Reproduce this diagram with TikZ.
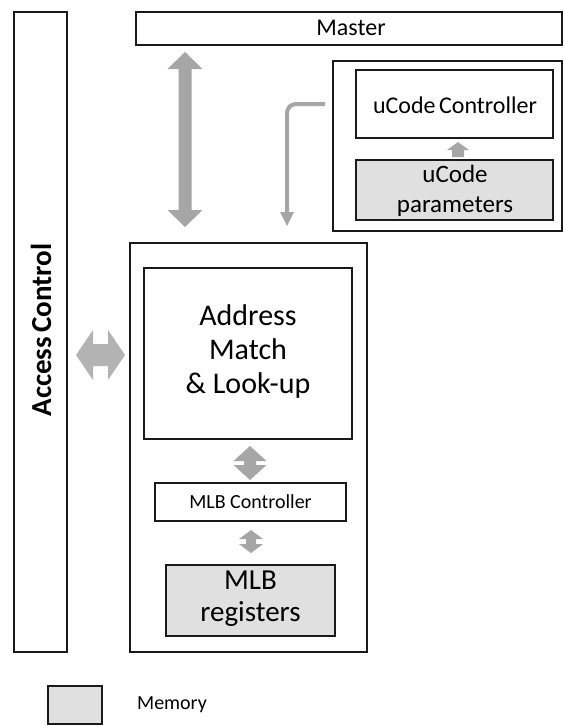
\documentclass[tikz,border=0pt]{standalone}
\usepackage{fontspec}
\setmainfont{Carlito}
\definecolor{arrgray}{HTML}{A6A6A6}
\definecolor{memfill}{HTML}{E0E0E0}
\definecolor{edge}{HTML}{1A1A1A}
\newcommand\fsz[1]{\fontsize{#1}{#1}\selectfont}
\newcommand\vdarr[6]{% x, ytop, ybot, shaft, head width, head length
  \fill[arrgray] (#1,#2) -- ({#1+#5/2},{#2+#6}) -- ({#1+#4/2},{#2+#6}) -- ({#1+#4/2},{#3-#6}) -- ({#1+#5/2},{#3-#6}) -- (#1,#3) -- ({#1-#5/2},{#3-#6}) -- ({#1-#4/2},{#3-#6}) -- ({#1-#4/2},{#2+#6}) -- ({#1-#5/2},{#2+#6}) -- cycle;}
\newcommand\hdarr[6]{% y, xleft, xright, shaft, head width, head length
  \fill[arrgray!85] (#2,#1) -- ({#2+#6},{#1-#5/2}) -- ({#2+#6},{#1-#4/2}) -- ({#3-#6},{#1-#4/2}) -- ({#3-#6},{#1-#5/2}) -- (#3,#1) -- ({#3-#6},{#1+#5/2}) -- ({#3-#6},{#1+#4/2}) -- ({#2+#6},{#1+#4/2}) -- ({#2+#6},{#1+#5/2}) -- cycle;}
\begin{document}
\begin{tikzpicture}[x=1pt,y=-1pt,
  box/.style={draw=edge, line width=1.2pt, fill=white},
  mem/.style={draw=edge, line width=1.2pt, fill=memfill},
  lbl/.style={inner sep=0pt, align=center, text=black}]
\useasboundingbox (0,0) rectangle (563,726);
% boxes
\draw[box] (14,12) rectangle (67,652);
\coordinate (acc) at (41,330);
\draw[box] (136,12) rectangle (562,45);
\draw[box] (333,61) rectangle (562,231);
\draw[box] (356,70) rectangle (553,138);
\draw[mem] (356,160) rectangle (553,220);
\draw[box] (130,243) rectangle (367,652);
\draw[box] (144,268) rectangle (352,439);
\draw[box] (155,483) rectangle (346,521);
\draw[mem] (166,565) rectangle (335,636);
\draw[mem] (48,686) rectangle (102,724);
% texts
\node[lbl, rotate=90] (access) at (acc) {\fsz{29}\textbf{Access\hspace{-2pt} Control}};
\node[lbl] (master) at (351,28) {\fsz{24}Master};
\node[lbl] (uctrl) at (455,105) {\fsz{24}uCode\hspace{-2pt} Controller};
\node[lbl] (upar) at (455,192) {\fsz{25}\begin{tabular}{@{}c@{}}uCode\\[5pt]parameters\end{tabular}};
\node[lbl] (addr) at (248,353) {\fsz{30}\begin{tabular}{@{}c@{}}Address\\[4pt]Match\\[4pt]\&~Look-up\end{tabular}};
\node[lbl] (mlbc) at (250.5,502) {\fsz{20}MLB Controller};
\node[lbl] (mlbr) at (250.5,600) {\fsz{29}\begin{tabular}{@{}c@{}}MLB\\[3pt]registers\end{tabular}};
\node[lbl] (memlbl) at (172,705) {\fsz{20}Memory};
% arrows
\vdarr{185}{52}{227}{13}{35}{17}
\vdarr{250}{446}{480}{12}{33}{15}
\vdarr{251}{530}{553}{10}{24}{9}
\hdarr{355}{76}{125}{22}{50}{17}
% small up arrow between uCode boxes
\fill[arrgray] (458,142) -- (469,150) -- (464,150) -- (464,157) -- (452,157) -- (452,150) -- (447,150) -- cycle;
% L-shaped arrow
\coordinate (lstart) at (325,104);
\coordinate (lend) at (287,226);
\draw[arrgray, line width=4pt, rounded corners=9pt] (lstart) -| (287,212);
\fill[arrgray] (lend) -- (280,212) -- (294,212) -- cycle;
\end{tikzpicture}
\end{document}
